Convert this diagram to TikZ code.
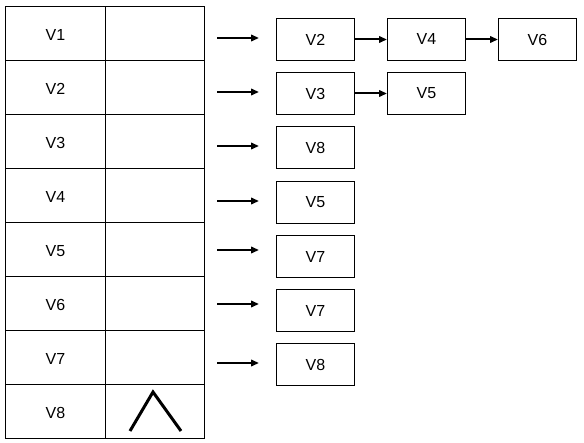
\documentclass[tikz,border=0pt]{standalone}
\usepackage{fontspec}
\setmainfont{Liberation Sans}
\usetikzlibrary{arrows.meta}
\begin{document}
\begin{tikzpicture}[x=1pt,y=-1pt,
  cell/.style={draw,line width=1pt,minimum width=100pt,minimum height=54pt,inner sep=0pt,anchor=north west,font=\fontsize{16}{18}\selectfont,text height=14.5pt,text depth=0pt},
  lbox/.style={draw,line width=1pt,minimum width=78pt,minimum height=42pt,inner sep=0pt,anchor=north west,font=\fontsize{16}{18}\selectfont},
  arr/.style={line width=2pt,-{Triangle[length=8pt,width=6.5pt]}}]
\useasboundingbox (0,0) rectangle (584,443);
% table
\foreach \i in {1,...,8}{
  \node[cell] (l\i) at (5,{6+54*(\i-1)}) {V\i};
  \node[cell,minimum width=99pt] (r\i) at (105,{6+54*(\i-1)}) {};
}
% wedge
\draw[line width=3pt] (130,431) -- (153,392) -- (181,431);
% boxes
\node[lbox] (b12) at (276,18) {V2};
\node[lbox] (b14) at (387,18) {V4};
\node[lbox] (b16) at (498,18) {V6};
\node[lbox] (b23) at (276,72) {V3};
\node[lbox] (b25) at (387,72) {V5};
\node[lbox] (b38) at (276,126) {V8};
\node[lbox] (b45) at (276,181) {V5};
\node[lbox] (b57) at (276,235) {V7};
\node[lbox] (b67) at (276,289) {V7};
\node[lbox] (b78) at (276,343) {V8};
% table-to-list arrows
\foreach \i/\y in {1/38,2/92,3/146,4/201,5/250,6/304,7/363}{
  \coordinate (s\i) at (217,\y);
  \coordinate (e\i) at (259,\y);
  \draw[arr] (s\i) -- (e\i);
}
% list arrows
\draw[arr] (b12.east) -- (b14.west);
\draw[arr] (b14.east) -- (b16.west);
\draw[arr] (b23.east) -- (b25.west);
\end{tikzpicture}
\end{document}
